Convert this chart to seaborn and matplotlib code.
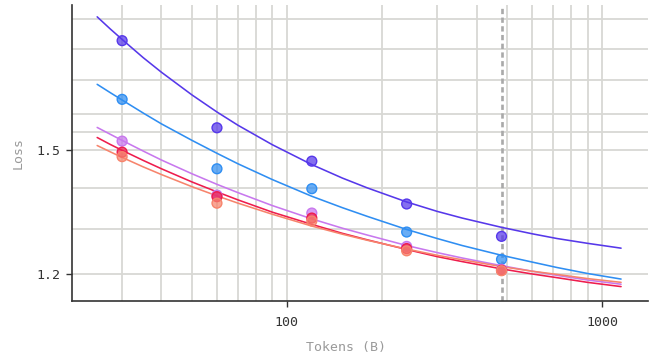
import matplotlib
matplotlib.use("Agg")
import matplotlib.pyplot as plt
import numpy as np
import pandas as pd
import seaborn as sns
from matplotlib.ticker import FixedLocator, FixedFormatter, NullFormatter

# ---------------- data ----------------
tokens = [30, 60, 120, 240, 480]
series = ["run_a", "run_b", "run_c", "run_d", "run_e"]
loss_a = [1.826, 1.561, 1.470, 1.361, 1.284]
loss_b = [1.643, 1.450, 1.399, 1.294, 1.232]
loss_c = [1.524, 1.383, 1.339, 1.261, 1.210]
loss_d = [1.494, 1.379, 1.327, 1.256, 1.208]
loss_e = [1.482, 1.363, 1.320, 1.251, 1.207]

curve_tokens = [25, 27.5, 30, 35, 40, 50, 60, 70, 90, 120, 150, 180, 240, 300,
                360, 480, 600, 720, 900, 1150]
curve_a = [1.906, 1.865, 1.830, 1.771, 1.725, 1.656, 1.606, 1.568, 1.514, 1.461,
           1.426, 1.401, 1.366, 1.343, 1.327, 1.305, 1.290, 1.279, 1.268, 1.257]
curve_b = [1.688, 1.663, 1.641, 1.603, 1.572, 1.526, 1.491, 1.463, 1.422, 1.380,
           1.352, 1.331, 1.300, 1.279, 1.263, 1.241, 1.226, 1.214, 1.201, 1.189]
curve_c = [1.562, 1.543, 1.526, 1.497, 1.473, 1.437, 1.410, 1.389, 1.357, 1.325,
           1.303, 1.287, 1.263, 1.247, 1.235, 1.218, 1.206, 1.197, 1.187, 1.178]
curve_d = [1.534, 1.515, 1.499, 1.472, 1.450, 1.416, 1.391, 1.371, 1.341, 1.312,
           1.291, 1.276, 1.254, 1.238, 1.227, 1.211, 1.200, 1.192, 1.182, 1.173]
curve_e = [1.512, 1.495, 1.480, 1.455, 1.435, 1.404, 1.381, 1.363, 1.336, 1.308,
           1.289, 1.275, 1.255, 1.241, 1.231, 1.216, 1.206, 1.199, 1.190, 1.182]

colors = ["#5638ea", "#2f8ef2", "#c878ee", "#ee1d4d", "#f7846c"]

x_major = [100, 1000]
x_major_labels = ["100", "1000"]
x_minor = [20, 30, 40, 50, 60, 70, 80, 90, 200, 300, 400, 500, 600, 700, 800, 900]
y_major = [1.2, 1.5]
y_major_labels = ["1.2", "1.5"]
y_minor = [1.3, 1.4, 1.55, 1.6, 1.7, 1.8, 1.9]
marker_line = 480

# ---------------- frames ----------------
pts = pd.DataFrame({
    "Tokens": tokens * 5,
    "Loss": loss_a + loss_b + loss_c + loss_d + loss_e,
    "run": sum([[s] * len(tokens) for s in series], []),
})
crv = pd.DataFrame({
    "Tokens": curve_tokens * 5,
    "Loss": curve_a + curve_b + curve_c + curve_d + curve_e,
    "run": sum([[s] * len(curve_tokens) for s in series], []),
})

sns.set_theme(style="white")
plt.rcParams["font.family"] = ["DejaVu Sans Mono"]

fig = plt.figure(figsize=(6.51, 3.60), dpi=100)
ax = fig.add_axes([72 / 651, 1 - 301 / 360, (648 - 72) / 651, (301 - 5) / 360])

ax.set_xscale("log")
ax.set_yscale("log")

palette = dict(zip(series, colors))
sns.lineplot(data=crv, x="Tokens", y="Loss", hue="run", palette=palette,
             estimator=None, sort=True, linewidth=1.15, legend=False, ax=ax, zorder=3)
sns.scatterplot(data=pts, x="Tokens", y="Loss", hue="run", palette=palette,
                s=50, linewidth=1.0, legend=False, ax=ax, zorder=4)
coll = ax.collections[-1]
fc = np.array(coll.get_facecolors())
coll.set_edgecolors(fc.copy())
fc[:, 3] = 0.72
coll.set_facecolors(fc)

ax.axvline(marker_line, color="#a9a9a9", lw=1.9, ls=(0, (2.0, 1.3)), zorder=2)

ax.set_xlim(20.8, 1400)
ax.set_ylim(1.143, 1.947)

ax.xaxis.set_major_locator(FixedLocator(x_major))
ax.xaxis.set_major_formatter(FixedFormatter(x_major_labels))
ax.xaxis.set_minor_locator(FixedLocator(x_minor))
ax.xaxis.set_minor_formatter(NullFormatter())
ax.yaxis.set_major_locator(FixedLocator(y_major))
ax.yaxis.set_major_formatter(FixedFormatter(y_major_labels))
ax.yaxis.set_minor_locator(FixedLocator(y_minor))
ax.yaxis.set_minor_formatter(NullFormatter())

ax.grid(True, which="both", color="#d8d8d4", linewidth=1.3, zorder=0)
ax.set_axisbelow(True)

ax.tick_params(axis="both", which="major", length=4, width=1, color="#333333",
               labelsize=9.5, labelcolor="#333333", direction="out")
ax.tick_params(axis="x", which="major", pad=7, bottom=True)
ax.tick_params(axis="y", which="major", pad=4, left=True)
ax.tick_params(axis="both", which="minor", length=0)

for side in ["top", "right"]:
    ax.spines[side].set_visible(False)
for side in ["left", "bottom"]:
    ax.spines[side].set_color("#333333")
    ax.spines[side].set_linewidth(1.2)

ax.set_xlabel("Tokens (B)", color="#9a9a9a", fontsize=9.5)
ax.set_ylabel("Loss", color="#9a9a9a", fontsize=9.5)
ax.xaxis.set_label_coords((345.5 - 72) / (648 - 72), -(347 - 301) / (301 - 5), transform=ax.transAxes)
ax.yaxis.set_label_coords(-(72 - 18) / (648 - 72), 0.5, transform=ax.transAxes)
ax.xaxis.label.set_va("center")
ax.yaxis.label.set_va("center")

fig.savefig("out.png", dpi=100)
